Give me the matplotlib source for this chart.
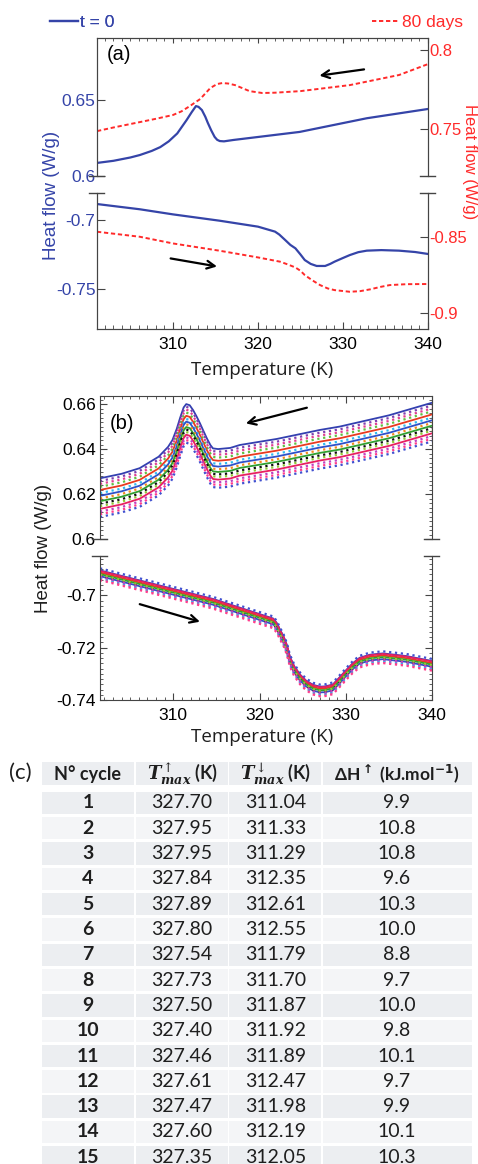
import matplotlib
matplotlib.use('Agg')
import matplotlib.pyplot as plt
from matplotlib.ticker import MultipleLocator, FuncFormatter
from matplotlib.lines import Line2D
from matplotlib.patches import Rectangle

# ---------------- data ----------------
# Panel (a): t = 0 (left axis, blue) and 80 days (right axis, red)
a_cool_T = [301.06, 303.0, 305.0, 306.1, 307.5, 308.5, 309.5, 310.5, 311.6, 312.2, 312.7, 313.0, 313.4,
            313.8, 314.1, 314.5, 314.9, 315.2, 315.5, 316.0, 317.1, 324.9, 332.8, 340.0]
a_cool_t0 = [0.6086, 0.6100, 0.6122, 0.6138, 0.6165, 0.6190, 0.6228, 0.6280, 0.6368, 0.6420, 0.6460, 0.6455, 0.6434,
             0.6390, 0.6349, 0.6300, 0.6257, 0.6238, 0.6230, 0.6228, 0.6237, 0.6290, 0.6380, 0.6441]
a_cool80_T = [301.06, 303.0, 306.1, 308.0, 310.0, 311.0, 312.0, 313.2, 314.4, 315.2, 315.8, 316.5, 317.3,
              318.2, 319.0, 320.5, 322.0, 325.0, 330.8, 336.6, 340.0]
a_cool_80 = [0.7487, 0.7510, 0.7544, 0.7565, 0.7589, 0.7612, 0.7646, 0.7690, 0.7760, 0.7785, 0.7791, 0.7788, 0.7778,
             0.7758, 0.7740, 0.7728, 0.7730, 0.7740, 0.7778, 0.7842, 0.7911]
a_heat_T = [301.06, 306.1, 310.0, 315.5, 320.0, 322.0, 322.5, 323.2, 323.8, 324.4, 325.0, 325.5, 326.2, 326.9,
            327.9, 328.5, 329.0, 330.0, 330.8, 331.8, 332.8, 334.5, 336.6, 338.5, 340.0]
a_heat_t0 = [-0.6884, -0.6922, -0.6959, -0.7005, -0.7048, -0.7084, -0.7105, -0.7145, -0.7180, -0.7205, -0.7250,
             -0.7290, -0.7318, -0.7333, -0.7333, -0.7318, -0.7302, -0.7275, -0.7254, -0.7233, -0.7222, -0.7218,
             -0.7222, -0.7232, -0.7246]
a_heat80_T = [301.06, 306.1, 310.0, 315.5, 320.0, 322.6, 323.5, 324.4, 325.0, 325.5, 326.4, 327.3, 328.2, 329.0,
              330.8, 332.0, 333.2, 334.4, 335.5, 337.5, 340.0]
a_heat_80 = [-0.8465, -0.8498, -0.8542, -0.8590, -0.8634, -0.8662, -0.8680, -0.8700, -0.8722, -0.8750, -0.8785,
             -0.8816, -0.8838, -0.8849, -0.8860, -0.8856, -0.8844, -0.8828, -0.8816, -0.8810, -0.8809]

# Panel (b): 15 cycles, upper (cooling) and lower (heating) branches
b_cool_T = [301.5, 304.0, 306.1, 308.3, 309.4, 309.9, 310.4, 310.8, 311.2, 311.5, 311.9, 312.3, 312.7, 313.1,
            313.5, 313.9, 314.3, 314.6, 315.2, 316.6, 317.7, 322.0, 327.0, 329.3, 335.0, 340.0]
b_cool_top = [0.6270, 0.6290, 0.6315, 0.6366, 0.6410, 0.6440, 0.6490, 0.6540, 0.6585, 0.6600, 0.6595, 0.6573,
              0.6545, 0.6514, 0.6480, 0.6447, 0.6418, 0.6403, 0.6400, 0.6405, 0.6418, 0.6445, 0.6485, 0.6500,
              0.6550, 0.6606]
b_cool_offsets = [0.0, -0.0012, -0.0025, -0.0038, -0.0052, -0.0066, -0.0078, -0.0090, -0.0102, -0.0113, -0.0124,
                  -0.0136, -0.0148, -0.0160, -0.0172]
b_heat_T = [301.5, 306.9, 314.6, 321.6, 322.0, 322.4, 322.8, 323.2, 323.5, 324.0, 324.7, 325.4, 326.2, 327.0,
            327.6, 328.5, 329.3, 330.1, 330.8, 331.6, 332.8, 334.3, 337.0, 340.0]
b_heat_top = [-0.6897, -0.6942, -0.7006, -0.7081, -0.7098, -0.7125, -0.7150, -0.7185, -0.7225, -0.7262, -0.7295,
              -0.7318, -0.7334, -0.7341, -0.7340, -0.7333, -0.7305, -0.7276, -0.7252, -0.7231, -0.7219, -0.7214,
              -0.7224, -0.7243]
b_heat_offsets = [-0.0008, -0.0012, -0.0040, -0.0020, -0.0016, -0.0036, -0.0030, -0.0026, -0.0022, -0.0028,
                  -0.0024, -0.0010, -0.0032, -0.0045, 0.0]

# Panel (c): table
cycles = ['1', '2', '3', '4', '5', '6', '7', '8', '9', '10', '11', '12', '13', '14', '15']
t_max_up = ['327.70', '327.95', '327.95', '327.84', '327.89', '327.80', '327.54', '327.73', '327.50', '327.40',
            '327.46', '327.61', '327.47', '327.60', '327.35']
t_max_down = ['311.04', '311.33', '311.29', '312.35', '312.61', '312.55', '311.79', '311.70', '311.87', '311.92',
              '311.89', '312.47', '311.98', '312.19', '312.05']
delta_h = ['9.9', '10.8', '10.8', '9.6', '10.3', '10.0', '8.8', '9.7', '10.0', '9.8', '10.1', '9.7', '9.9',
           '10.1', '10.3']

# ---------------- styles ----------------
W, H = 478, 1164
BLUE = '#3544a8'
RED = '#ff2a2a'
SPINE = '#444444'
TICKFONT = 'Liberation Sans'
LABELFONT = 'Open Sans'
TABFONT = ['Lato', 'DejaVu Sans']
TXT = '#1e1e1e'

cycle_styles = [
    ('#3340b0', '-'), ('#8040b0', ':'), ('#e04090', ':'), ('#60c040', ':'),
    ('#e83a20', '-'), ('#30b8f0', ':'), ('#3050c8', '-'), ('#f08a20', ':'),
    ('#30a030', '-'), ('#101010', ':'), ('#90c838', ':'), ('#e82060', '-'),
    ('#c040c0', ':'), ('#ff3c8c', ':'), ('#4050d0', ':'),
]

fig = plt.figure(figsize=(W / 100, H / 100), dpi=100)


def px_axes(x0, y0, x1, y1, **kw):
    return fig.add_axes([x0 / W, 1 - y1 / H, (x1 - x0) / W, (y1 - y0) / H], **kw)


fmt = FuncFormatter(lambda v, p: '%g' % round(v, 4))


def style_ticks(ax, size=11.5):
    for lab in ax.get_xticklabels() + ax.get_yticklabels():
        lab.set_fontfamily(TICKFONT)
        lab.set_fontsize(size)


def break_marks(ax, where):
    y = 0 if where == 'bottom' else 1
    for x in (0, 1):
        ax.plot([x - 0.025, x + 0.02], [y, y], transform=ax.transAxes, color=SPINE,
                lw=1.0, clip_on=False, zorder=10)


# ================= Panel (a) =================
aU = px_axes(97, 38, 428, 176)
aL = px_axes(97, 193, 428, 329)
aUr = aU.twinx()
aLr = aL.twinx()
for ax in (aU, aL):
    ax.set_xlim(301.06, 340)
aU.set_ylim(0.6, 0.6908)
aUr.set_ylim(0.7203, 0.8076)
aL.set_ylim(-0.779, -0.6804)
aLr.set_ylim(-0.9105, -0.821)

DASH = (0, (2.2, 1.4))
aU.plot(a_cool_T, a_cool_t0, color=BLUE, lw=1.6)
aUr.plot(a_cool80_T, a_cool_80, color=RED, lw=1.4, ls=DASH)
aL.plot(a_heat_T, a_heat_t0, color=BLUE, lw=1.6)
aLr.plot(a_heat80_T, a_heat_80, color=RED, lw=1.4, ls=DASH)

for ax, hide in ((aU, 'bottom'), (aUr, 'bottom'), (aL, 'top'), (aLr, 'top')):
    ax.spines[hide].set_visible(False)
    for s in ax.spines.values():
        s.set_color(SPINE)

aU.xaxis.set_ticks_position('top')
aU.tick_params(axis='x', which='both', direction='in', labeltop=False, labelbottom=False, color=SPINE)
aU.xaxis.set_major_locator(MultipleLocator(10))
aU.xaxis.set_minor_locator(MultipleLocator(1))
aL.xaxis.set_ticks_position('bottom')
aL.xaxis.set_major_locator(MultipleLocator(10))
aL.xaxis.set_minor_locator(MultipleLocator(1))
aL.tick_params(axis='x', which='major', direction='in', length=5, color=SPINE, pad=6)
aL.tick_params(axis='x', which='minor', direction='in', length=3, color=SPINE)
aL.set_xticks([310, 320, 330, 340])
for ax in (aUr, aLr):
    ax.tick_params(axis='x', which='both', bottom=False, top=False, labelbottom=False)

aU.set_yticks([0.6, 0.65])
aL.set_yticks([-0.75, -0.7])
aUr.set_yticks([0.75, 0.8])
aLr.set_yticks([-0.9, -0.85])
for ax in (aU, aL):
    ax.yaxis.set_major_formatter(fmt)
    ax.tick_params(axis='y', direction='in', length=6, color=SPINE, labelcolor=BLUE, pad=1)
for ax in (aUr, aLr):
    ax.yaxis.set_major_formatter(fmt)
    ax.tick_params(axis='y', direction='in', length=6, color=SPINE, labelcolor=RED, pad=1)
for ax in (aU, aL):
    style_ticks(ax, 12.5)
for ax in (aUr, aLr):
    style_ticks(ax, 12)
break_marks(aU, 'bottom')
break_marks(aL, 'top')

aU.text(0.03, 0.84, '(a)', transform=aU.transAxes, fontsize=14.5, family=TICKFONT)
aU.annotate('', xy=(326.9, 0.6658), xytext=(332.8, 0.6704),
            arrowprops=dict(arrowstyle='->', color='black', lw=1.6, mutation_scale=14))
aL.annotate('', xy=(315.5, -0.7340), xytext=(309.4, -0.7275),
            arrowprops=dict(arrowstyle='->', color='black', lw=1.6, mutation_scale=14))

# legends
h1 = Line2D([], [], color=BLUE, lw=1.6)
h2 = Line2D([], [], color=RED, lw=1.4, ls=DASH)
leg1 = aU.legend([h1], ['t = 0'], loc='center left', bbox_to_anchor=((50 - 97) / 331, (176 - 22) / 138),
                 frameon=False, handlelength=1.6, handletextpad=0.15, borderpad=0, borderaxespad=0,
                 prop={'family': TICKFONT, 'size': 12.5}, labelcolor=BLUE)
aU.add_artist(leg1)
leg2 = aUr.legend([h2], ['80 days'], loc='center right', bbox_to_anchor=((463 - 97) / 331, (176 - 22) / 138),
                  frameon=False, handlelength=1.6, handletextpad=0.15, borderpad=0, borderaxespad=0,
                  prop={'family': TICKFONT, 'size': 12.5}, labelcolor=RED)

fig.text(52 / W, 1 - 195 / H, 'Heat flow (W/g)', rotation=90, ha='center', va='center',
         color=BLUE, fontsize=13.5, family=TICKFONT)
fig.text(469 / W, 1 - 162 / H, 'Heat flow (W/g)', rotation=-90, ha='center', va='center',
         color=RED, fontsize=12, family=TICKFONT)
fig.text(262 / W, 1 - 370 / H, 'Temperature (K)', ha='center', va='center',
         fontsize=13.5, family=LABELFONT, color=TXT)

# ================= Panel (b) =================
bU = px_axes(100, 396, 432, 539)
bL = px_axes(100, 556, 432, 700)
for ax in (bU, bL):
    ax.set_xlim(301.5, 340)
bU.set_ylim(0.6, 0.6636)
bL.set_ylim(-0.74, -0.685)

for i, (col, ls) in enumerate(cycle_styles):
    lw = 1.3 if ls == '-' else 1.6
    bU.plot(b_cool_T, [v + b_cool_offsets[i] for v in b_cool_top], color=col, ls=ls, lw=lw)
    bL.plot(b_heat_T, [v + b_heat_offsets[i] for v in b_heat_top], color=col, ls=ls, lw=lw)

bU.spines['bottom'].set_visible(False)
bL.spines['top'].set_visible(False)
for ax in (bU, bL):
    for s in ax.spines.values():
        s.set_color(SPINE)
    ax.yaxis.set_minor_locator(MultipleLocator(0.002))
    ax.xaxis.set_major_locator(MultipleLocator(10))
    ax.xaxis.set_minor_locator(MultipleLocator(1))
    ax.yaxis.set_major_formatter(fmt)
    ax.tick_params(axis='both', which='major', direction='in', length=5, color=SPINE, pad=3)
    ax.tick_params(axis='both', which='minor', direction='in', length=2.5, color=SPINE)
    ax.tick_params(axis='y', which='both', left=True, right=True)
bU.set_yticks([0.6, 0.62, 0.64, 0.66])
bL.set_yticks([-0.74, -0.72, -0.7])
bU.tick_params(axis='x', which='both', top=True, bottom=False, labelbottom=False)
bL.tick_params(axis='x', which='both', top=False, bottom=True, pad=6)
bL.set_xticks([310, 320, 330, 340])
for ax in (bU, bL):
    style_ticks(ax, 12.5)
break_marks(bU, 'bottom')
break_marks(bL, 'top')

bU.text(0.03, 0.77, '(b)', transform=bU.transAxes, fontsize=14.5, family=TICKFONT)
bU.annotate('', xy=(318.1, 0.6511), xytext=(325.8, 0.6587),
            arrowprops=dict(arrowstyle='->', color='black', lw=1.6, mutation_scale=14))
bL.annotate('', xy=(313.4, -0.7104), xytext=(305.8, -0.7031),
            arrowprops=dict(arrowstyle='->', color='black', lw=1.6, mutation_scale=14))

fig.text(43 / W, 1 - 548 / H, 'Heat flow (W/g)', rotation=90, ha='center', va='center',
         fontsize=13.5, family=TICKFONT, color=TXT)
fig.text(262 / W, 1 - 737 / H, 'Temperature (K)', ha='center', va='center',
         fontsize=13.5, family=LABELFONT, color=TXT)

# ================= Panel (c): table =================
tab = px_axes(0, 0, W, H)
tab.set_xlim(0, W)
tab.set_ylim(H, 0)
tab.axis('off')
tab.patch.set_alpha(0)

col_edges = [(42, 134), (136, 228), (229.5, 321.5), (323, 472)]
col_centers = [88, 182, 275.5, 397]
GREY1 = '#eceef1'
GREY2 = '#f4f5f7'

# header
for (x0, x1) in col_edges:
    tab.add_patch(Rectangle((x0, 762), x1 - x0, 23, color=GREY1, lw=0))
hy = 774
tab.text(col_centers[0], hy, 'N° cycle', ha='center', va='center', fontsize=13,
         fontweight='bold', family=TABFONT, color=TXT)
tab.text(col_centers[1], hy, r'$\boldsymbol{T}^{\uparrow}_{\boldsymbol{max}}$ (K)', ha='center', va='center',
         fontsize=13, fontweight='bold', family=TABFONT, math_fontfamily='dejavuserif', color=TXT)
tab.text(col_centers[2], hy, r'$\boldsymbol{T}^{\downarrow}_{\boldsymbol{max}}$ (K)', ha='center', va='center',
         fontsize=13, fontweight='bold', family=TABFONT, math_fontfamily='dejavuserif', color=TXT)
tab.text(col_centers[3], hy, 'ΔH' + r'$^{\mathbf{\uparrow}}$' + ' (kJ.mol' + r'$^{\mathbf{-1}}$' + ')',
         ha='center', va='center', fontsize=12.5, fontweight='bold', family=TABFONT, color=TXT)
tab.text(20, 773, '(c)', ha='center', va='center', fontsize=16, family=TABFONT, color=TXT)

row0 = 803
pitch = 25.3
for i in range(len(cycles)):
    cy = row0 + i * pitch
    shade = GREY1 if i % 2 == 0 else GREY2
    for (x0, x1) in col_edges:
        tab.add_patch(Rectangle((x0, cy - 11.2), x1 - x0, 22.4, color=shade, lw=0))
    tab.text(col_centers[0], cy, cycles[i], ha='center', va='center', fontsize=14,
             fontweight='bold', family=TABFONT, color=TXT)
    tab.text(col_centers[1], cy, t_max_up[i], ha='center', va='center', fontsize=14, family=TABFONT, color=TXT)
    tab.text(col_centers[2], cy, t_max_down[i], ha='center', va='center', fontsize=14, family=TABFONT, color=TXT)
    tab.text(col_centers[3], cy, delta_h[i], ha='center', va='center', fontsize=14, family=TABFONT, color=TXT)

fig.savefig('out.png', dpi=100)
